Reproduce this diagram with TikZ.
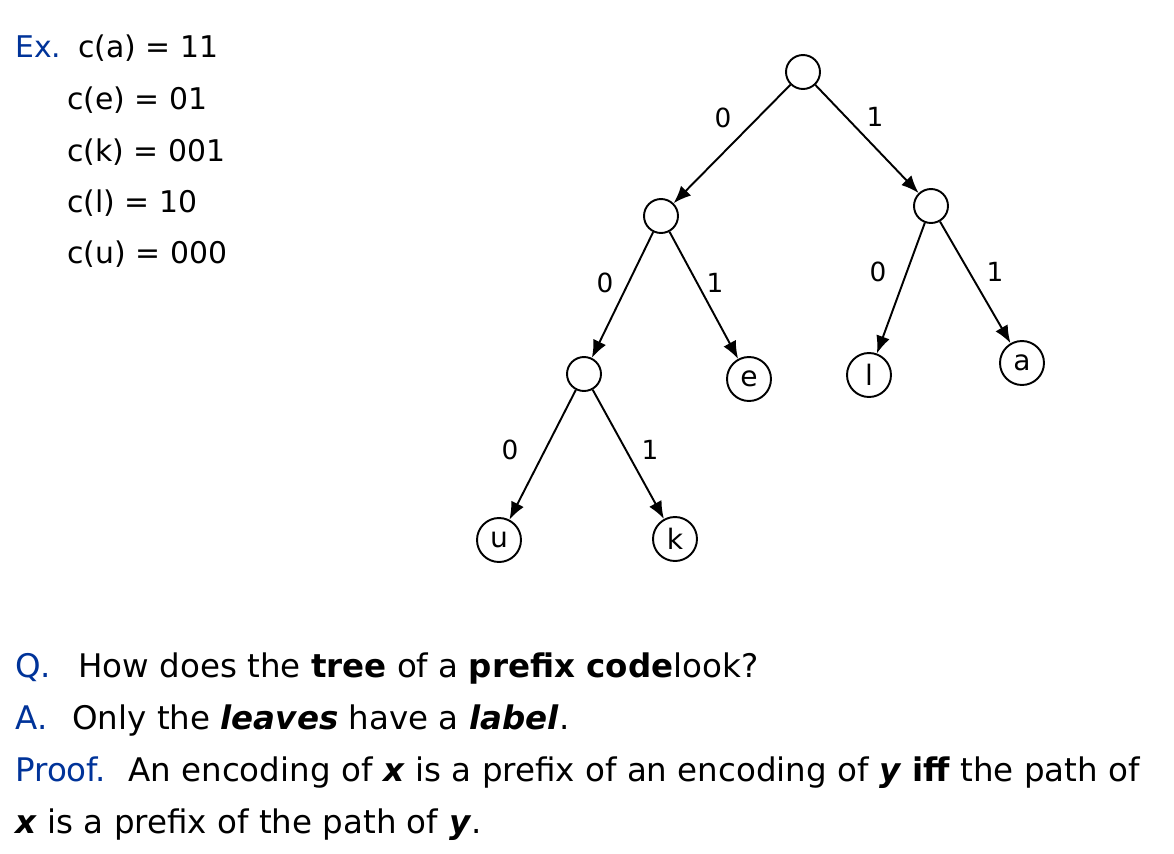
\documentclass[tikz,border=0pt]{standalone}
\usepackage{fontspec}
\setmainfont{DejaVu Sans}
\usepackage{xcolor}
\usetikzlibrary{arrows.meta}
\definecolor{slideblue}{RGB}{0,51,153}
\tikzset{
  knot/.style={
    draw,
    circle,
    line width=1.1pt,
    minimum size=0.68cm,
    inner sep=0pt
  },
  leaf/.style={knot, minimum size=0.88cm, font=\fontsize{16}{19}\selectfont},
  bit/.style={inner sep=0pt, font=\fontsize{15}{18}\selectfont},
  branch/.style={line width=1.1pt, -{Latex[length=10pt,width=8pt]}},
  txt/.style={anchor=base west, inner sep=0pt, font=\fontsize{17}{20}\selectfont},
  tag/.style={txt, text=slideblue},
  line/.style={txt, font=\fontsize{18.5}{22}\selectfont},
  linetag/.style={line, text=slideblue}
}

\begin{document}
\begin{tikzpicture}[x=0.02cm,y=-0.02cm]
		\useasboundingbox (0,0) rectangle (1174,853);
		% code words
		\node[tag] (ex) at (15,57) {Ex.};
		\node[txt] (ca) at (78,57) {c(a) = 11};
		\node[txt] (ce) at (67,109) {c(e) = 01};
		\node[txt] (ck) at (67,161) {c(k) = 001};
		\node[txt] (cl) at (67,212) {c(l) = 10};
		\node[txt] (cu) at (67,263) {c(u) = 000};
		% tree
		\node[knot] (r) at (803,72) {};
		\node[knot] (n0) at (661,216) {};
		\node[knot] (n1) at (931,206) {};
		\node[knot] (n00) at (584,374) {};
		\node[leaf] (e) at (749,379) {e};
		\node[leaf] (l) at (869,375) {l};
		\node[leaf] (a) at (1022,363) {a};
		\node[leaf] (u) at (499,540) {u};
		\node[leaf] (k) at (675,539) {k};
		\draw[branch] (r) -- (n0);
		\draw[branch] (r) -- (n1);
		\draw[branch] (n0) -- (n00);
		\draw[branch] (n0) -- (e);
		\draw[branch] (n1) -- (l);
		\draw[branch] (n1) -- (a);
		\draw[branch] (n00) -- (u);
		\draw[branch] (n00) -- (k);
		\node[bit] (b0) at (723,118) {0};
		\node[bit] (b1) at (875,117) {1};
		\node[bit] (b00) at (605,283) {0};
		\node[bit] (b01) at (715,283) {1};
		\node[bit] (b10) at (878,272) {0};
		\node[bit] (b11) at (995,272) {1};
		\node[bit] (b000) at (510,450) {0};
		\node[bit] (b001) at (650,450) {1};
		% question and answer
		\node[linetag] (q) at (15,677) {Q.};
		\node[line] (qt) at (78,677) {How does the \textbf{tree} of a \textbf{prefix code}look?};
		\node[linetag] (ans) at (15,729) {A.};
		\node[line] (at) at (72,729) {Only the \textbf{\textit{leaves}} have a \textbf{\textit{label}}.};
		\node[linetag] (pf) at (15,781) {Proof.};
		\node[line] (pt) at (128,781) {An encoding of \textbf{\textit{x}} is a prefix of an encoding of \textbf{\textit{y}} \textbf{iff} the path of};
		\node[line] (pt2) at (15,833) {\textbf{\textit{x}} is a prefix of the path of \textbf{\textit{y}}.};
	\end{tikzpicture}
\end{document}
